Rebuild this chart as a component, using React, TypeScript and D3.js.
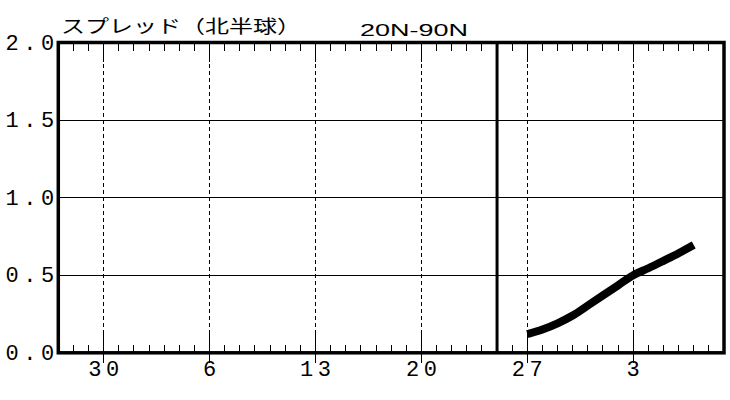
import React from "react";
import * as d3 from "d3";

// ---- data ----
const dayCount = 44; // days spanned by the x axis (index 0..44)
const majorTickDays = [3, 10, 17, 24, 31, 38];
const majorTickLabels = ["30", "6", "13", "20", "27", "3"];
const separatorDay = 29;
const yTickValues = [0, 0.5, 1.0, 1.5, 2.0];
const yTickLabels = ["0.0", "0.5", "1.0", "1.5", "2.0"];
const seriesStartDay = 31;
const spreadValues = [0.12, 0.15, 0.19, 0.24, 0.305, 0.37, 0.435, 0.5, 0.545, 0.593, 0.642, 0.695];
const titleText = "スプレッド（北半球）";
const regionText = "20N-90N";

const W = 730;
const H = 400;
const left = 58.3;
const right = 724;
const top = 42.5;
const bottom = 352.8;

export default function App() {
  const x = d3.scaleLinear().domain([0, dayCount]).range([left, right]);
  const y = d3.scaleLinear().domain([0, 2]).range([bottom, top]);

  const pts: [number, number][] = spreadValues.map((v, i) => [seriesStartDay + i, v]);
  const line = d3
    .line<[number, number]>()
    .x((d) => x(d[0]))
    .y((d) => y(d[1]))
    .curve(d3.curveMonotoneX);

  const minorDays = d3.range(1, dayCount).filter((d) => !majorTickDays.includes(d) && d !== separatorDay);
  const mono = "'Liberation Mono', 'DejaVu Sans Mono', monospace";
  const pitch = 17.8;

  return (
    <svg width={W} height={H} style={{ position: "absolute", left: 0, top: 0, background: "#fff" }}>
      <rect x={0} y={0} width={W} height={H} fill="#fff" />
      {/* horizontal grid */}
      {yTickValues
        .filter((v) => v > 0 && v < 2)
        .map((v) => (
          <line key={"h" + v} x1={left} x2={right} y1={y(v)} y2={y(v)} stroke="#000" strokeWidth={1} shapeRendering="crispEdges" />
        ))}
      {/* vertical dashed grid */}
      {majorTickDays.map((d) => (
        <line key={"v" + d} x1={x(d)} x2={x(d)} y1={top} y2={bottom} stroke="#000" strokeWidth={1} strokeDasharray="4,3" shapeRendering="crispEdges" />
      ))}
      {/* minor ticks */}
      {minorDays.map((d) => (
        <g key={"m" + d}>
          <line x1={x(d)} x2={x(d)} y1={bottom} y2={bottom - 8} stroke="#000" strokeWidth={1} shapeRendering="crispEdges" />
          <line x1={x(d)} x2={x(d)} y1={top} y2={top + 8} stroke="#000" strokeWidth={1} shapeRendering="crispEdges" />
        </g>
      ))}
      {/* major ticks */}
      {majorTickDays.map((d) => (
        <g key={"M" + d}>
          <line x1={x(d)} x2={x(d)} y1={bottom - 20} y2={bottom + 10} stroke="#000" strokeWidth={1} shapeRendering="crispEdges" />
          <line x1={x(d)} x2={x(d)} y1={top} y2={top + 19} stroke="#000" strokeWidth={1} shapeRendering="crispEdges" />
        </g>
      ))}
      {/* frame */}
      <rect x={left} y={top} width={right - left} height={bottom - top} fill="none" stroke="#000" strokeWidth={3.5} />
      <line x1={x(separatorDay)} x2={x(separatorDay)} y1={top} y2={bottom} stroke="#000" strokeWidth={3} />
      {/* series */}
      <path d={line(pts) || ""} fill="none" stroke="#000" strokeWidth={8} strokeLinejoin="round" strokeLinecap="butt" />
      {/* y labels */}
      {yTickValues.map((v, i) => {
        const chars = yTickLabels[i].split("");
        return (
          <g key={"yl" + v}>
            {chars.map((c, j) => (
              <text key={j} x={12 + j * pitch} y={y(v) + 7} textAnchor="middle" fontFamily={mono} fontSize={22} fill="#000">
                {c}
              </text>
            ))}
          </g>
        );
      })}
      {/* x labels */}
      {majorTickDays.map((d, i) => {
        const chars = majorTickLabels[i].split("");
        const n = chars.length;
        return (
          <g key={"xl" + d}>
            {chars.map((c, j) => (
              <text key={j} x={x(d) + (j - (n - 1) / 2) * pitch} y={376} textAnchor="middle" fontFamily={mono} fontSize={22} fill="#000">
                {c}
              </text>
            ))}
          </g>
        );
      })}
      {/* titles */}
      <text x={61} y={33} fontFamily="'Noto Sans CJK JP', sans-serif" fontSize={18} textLength={240} lengthAdjust="spacingAndGlyphs" fill="#000">
        {titleText}
      </text>
      <text x={360} y={36} fontFamily="'Liberation Sans', Arial, sans-serif" fontSize={17} textLength={108} lengthAdjust="spacingAndGlyphs" fill="#000">
        {regionText}
      </text>
    </svg>
  );
}
